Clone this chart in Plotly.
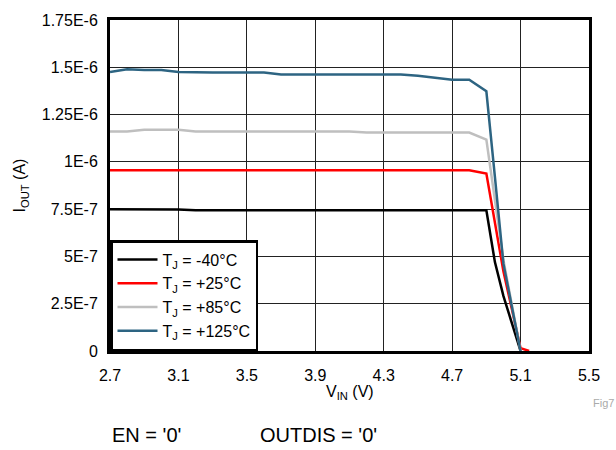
import plotly.graph_objects as go

vin = [2.7, 2.8, 2.9, 3.0, 3.1, 3.2, 3.3, 3.4, 3.5, 3.6, 3.7, 3.8, 3.9, 4.0,
       4.1, 4.2, 4.3, 4.4, 4.5, 4.6, 4.7, 4.8, 4.9, 4.95, 5.0, 5.1]
vin_red = vin + [5.15]

i_m40 = [7.5e-7, 7.5e-7, 7.5e-7, 7.5e-7, 7.48e-7, 7.44e-7, 7.44e-7, 7.44e-7, 7.44e-7,
         7.44e-7, 7.44e-7, 7.44e-7, 7.44e-7, 7.44e-7, 7.44e-7, 7.44e-7, 7.44e-7,
         7.44e-7, 7.44e-7, 7.44e-7, 7.44e-7, 7.44e-7, 7.44e-7, 4.7e-7, 2.9e-7, 0.0]
i_25 = [9.55e-7, 9.55e-7, 9.55e-7, 9.55e-7, 9.55e-7, 9.55e-7, 9.55e-7, 9.55e-7, 9.55e-7,
        9.55e-7, 9.55e-7, 9.55e-7, 9.55e-7, 9.55e-7, 9.55e-7, 9.55e-7, 9.55e-7,
        9.55e-7, 9.55e-7, 9.55e-7, 9.55e-7, 9.55e-7, 9.38e-7, 6.9e-7, 4.2e-7, 1.5e-8, 0.0]
i_85 = [1.16e-6, 1.16e-6, 1.17e-6, 1.17e-6, 1.17e-6, 1.16e-6, 1.16e-6, 1.16e-6, 1.16e-6,
        1.16e-6, 1.16e-6, 1.16e-6, 1.16e-6, 1.16e-6, 1.16e-6, 1.155e-6, 1.155e-6,
        1.155e-6, 1.155e-6, 1.155e-6, 1.155e-6, 1.155e-6, 1.118e-6, 7.9e-7, 4.8e-7, 0.0]
i_125 = [1.475e-6, 1.49e-6, 1.485e-6, 1.485e-6, 1.475e-6, 1.472e-6, 1.472e-6, 1.472e-6, 1.472e-6,
         1.472e-6, 1.462e-6, 1.462e-6, 1.462e-6, 1.462e-6, 1.462e-6, 1.462e-6, 1.462e-6,
         1.462e-6, 1.455e-6, 1.445e-6, 1.434e-6, 1.434e-6, 1.373e-6, 9.2e-7, 4.6e-7, 0.0]

x_ticks = [2.7, 3.1, 3.5, 3.9, 4.3, 4.7, 5.1, 5.5]
x_ticktext = ["2.7", "3.1", "3.5", "3.9", "4.3", "4.7", "5.1", "5.5"]
y_ticks = [0, 2.5e-7, 5e-7, 7.5e-7, 1e-6, 1.25e-6, 1.5e-6, 1.75e-6]
y_ticktext = ["0", "2.5E-7", "5E-7", "7.5E-7", "1E-6", "1.25E-6", "1.5E-6", "1.75E-6"]

series = [
    ("T<sub>J</sub> = -40°C", vin, i_m40, "#000000"),
    ("T<sub>J</sub> = +25°C", vin_red, i_25, "#FF0000"),
    ("T<sub>J</sub> = +85°C", vin, i_85, "#BFBFBF"),
    ("T<sub>J</sub> = +125°C", vin, i_125, "#2D6482"),
]

FAM = "Liberation Sans, Arial, sans-serif"

fig = go.Figure()
for name, xs, ys, col in series:
    fig.add_trace(go.Scatter(x=xs, y=ys, mode="lines", name=name,
                             line=dict(color=col, width=2.5)))

fig.update_layout(
    width=616, height=450,
    margin=dict(l=110, r=27, t=13, b=99),
    paper_bgcolor="white", plot_bgcolor="white",
    font=dict(family=FAM, size=16, color="#000"),
    showlegend=True,
    legend=dict(x=0, y=0, xanchor="left", yanchor="bottom",
                bgcolor="white", bordercolor="#000", borderwidth=2.5,
                font=dict(family=FAM, size=16, color="#000"),
                tracegroupgap=0, itemwidth=40),
    xaxis=dict(range=[2.7, 5.5], tickvals=x_ticks, ticktext=x_ticktext,
               showgrid=True, gridcolor="#222", gridwidth=1,
               showline=True, linecolor="#000", linewidth=3, mirror=True,
               ticks="", zeroline=False, ticklabelstandoff=8,
               tickfont=dict(family=FAM, size=16, color="#000")),
    yaxis=dict(range=[0, 1.75e-6], tickvals=y_ticks, ticktext=y_ticktext,
               showgrid=True, gridcolor="#222", gridwidth=1,
               showline=True, linecolor="#000", linewidth=3, mirror=True,
               ticks="", zeroline=False, ticklabelstandoff=6,
               tickfont=dict(family=FAM, size=16, color="#000")),
    annotations=[
        dict(text="V<sub>IN</sub> (V)", xref="paper", yref="paper",
             x=0.5, y=-0.124, xanchor="center", yanchor="middle",
             showarrow=False, font=dict(family=FAM, size=16, color="#000")),
        dict(text="I<sub>OUT</sub> (A)", xref="paper", yref="paper",
             x=-0.186, y=0.5, xanchor="center", yanchor="middle", textangle=-90,
             showarrow=False, font=dict(family=FAM, size=16, color="#000")),
        dict(text="Fig7", xref="paper", yref="paper", x=1.056, y=-0.157,
             xanchor="right", yanchor="middle", showarrow=False,
             font=dict(family=FAM, size=11, color="#AAAAAA")),
        dict(text="EN = '0'", xref="paper", yref="paper", x=0.0, y=-0.254,
             xanchor="left", yanchor="middle", showarrow=False,
             font=dict(family=FAM, size=20, color="#000")),
        dict(text="OUTDIS = '0'", xref="paper", yref="paper", x=0.31, y=-0.254,
             xanchor="left", yanchor="middle", showarrow=False,
             font=dict(family=FAM, size=20, color="#000")),
    ],
)

fig.write_html("out.html", config={"displayModeBar": False},
               post_script="document.body.style.margin='0px';")
